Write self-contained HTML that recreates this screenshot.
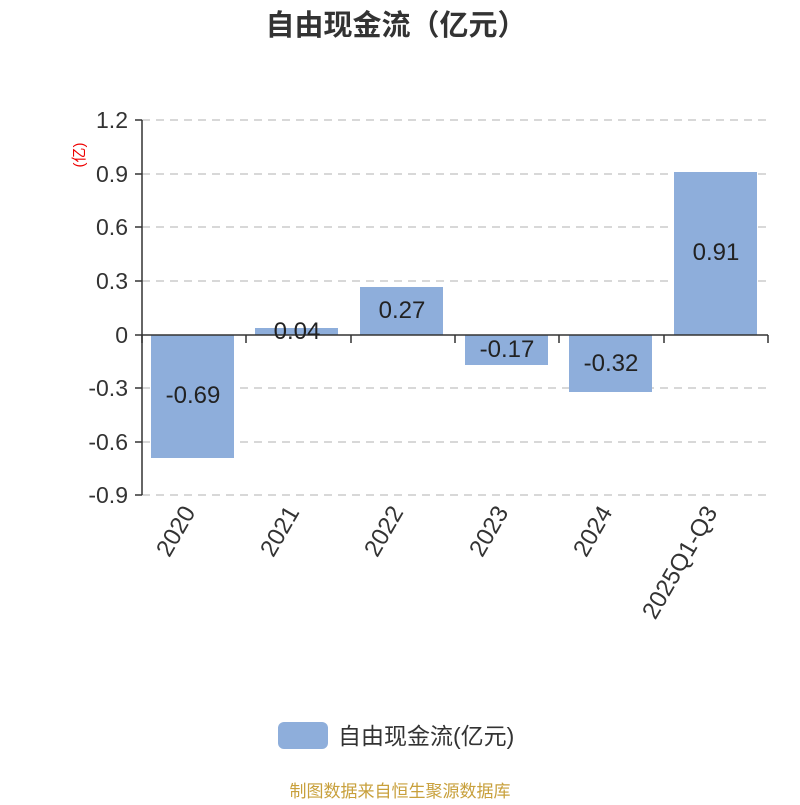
<!DOCTYPE html>
<html><head><meta charset="utf-8"><style>body{margin:0;background:#fff}</style></head><body>
<svg width="800" height="800" xmlns="http://www.w3.org/2000/svg" font-family="'Liberation Sans','Noto Sans CJK SC',sans-serif">
<rect width="800" height="800" fill="#fff"/>
<text x="396" y="35" text-anchor="middle" font-size="29" font-weight="bold" fill="#333">自由现金流（亿元）</text>
<g stroke="#ccc" stroke-dasharray="8,6" stroke-width="1.5">
<line x1="142" y1="120" x2="768" y2="120"/><line x1="142" y1="174" x2="768" y2="174"/>
<line x1="142" y1="227" x2="768" y2="227"/><line x1="142" y1="281" x2="768" y2="281"/>
<line x1="142" y1="388" x2="768" y2="388"/><line x1="142" y1="442" x2="768" y2="442"/>
<line x1="142" y1="495" x2="768" y2="495"/>
</g>
<g fill="#8eaedb">
<rect x="151" y="335" width="83" height="123"/>
<rect x="255" y="328" width="83" height="7"/>
<rect x="360" y="287" width="83" height="48"/>
<rect x="465" y="335" width="83" height="30"/>
<rect x="569" y="335" width="83" height="57"/>
<rect x="674" y="172" width="83" height="163"/>
</g>
<g stroke="#333" stroke-width="1.5">
<line x1="142" y1="120" x2="142" y2="495"/>
<line x1="142" y1="335" x2="768" y2="335"/>
<line x1="135" y1="120" x2="142" y2="120"/><line x1="135" y1="174" x2="142" y2="174"/>
<line x1="135" y1="227" x2="142" y2="227"/><line x1="135" y1="281" x2="142" y2="281"/>
<line x1="135" y1="335" x2="142" y2="335"/><line x1="135" y1="388" x2="142" y2="388"/>
<line x1="135" y1="442" x2="142" y2="442"/><line x1="135" y1="495" x2="142" y2="495"/>
<line x1="142" y1="335" x2="142" y2="343"/><line x1="246" y1="335" x2="246" y2="343"/>
<line x1="351" y1="335" x2="351" y2="343"/><line x1="455" y1="335" x2="455" y2="343"/>
<line x1="559" y1="335" x2="559" y2="343"/><line x1="664" y1="335" x2="664" y2="343"/>
<line x1="768" y1="335" x2="768" y2="343"/>
</g>
<g font-size="23" fill="#333" text-anchor="end">
<text x="128" y="128">1.2</text><text x="128" y="182">0.9</text><text x="128" y="235">0.6</text>
<text x="128" y="289">0.3</text><text x="128" y="343">0</text><text x="128" y="396">-0.3</text>
<text x="128" y="450">-0.6</text><text x="128" y="503">-0.9</text>
</g>
<text transform="translate(84,155) rotate(-90)" text-anchor="middle" font-size="15" fill="#e00">(亿)</text>
<g font-size="24" fill="#222" text-anchor="middle">
<text x="193" y="403">-0.69</text><text x="297" y="339">0.04</text><text x="402" y="318">0.27</text>
<text x="507" y="357">-0.17</text><text x="611" y="371">-0.32</text><text x="716" y="260">0.91</text>
</g>
<g font-size="24" fill="#333" text-anchor="end">
<text transform="translate(196,512) rotate(-60)">2020</text>
<text transform="translate(300,512) rotate(-60)">2021</text>
<text transform="translate(404,512) rotate(-60)">2022</text>
<text transform="translate(509,512) rotate(-60)">2023</text>
<text transform="translate(613,512) rotate(-60)">2024</text>
<text transform="translate(718,512) rotate(-60)">2025Q1-Q3</text>
</g>
<rect x="278" y="722" width="50" height="27" rx="6" fill="#8eaedb"/>
<text x="338" y="744" font-size="23" fill="#333">自由现金流(亿元)</text>
<text x="400" y="797" text-anchor="middle" font-size="17" fill="#c8a03c">制图数据来自恒生聚源数据库</text>
</svg>
</body></html>
